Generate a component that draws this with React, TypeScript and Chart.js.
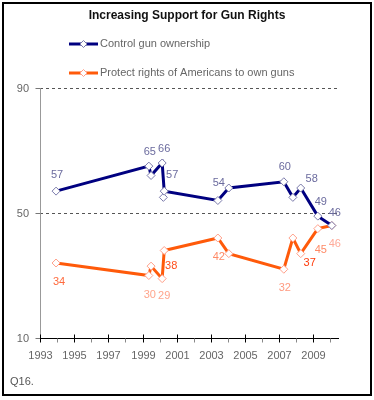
import React, { useEffect, useRef } from "react";
import { Chart, registerables } from "chart.js";

Chart.register(...registerables);

const TITLE = "Increasing Support for Gun Rights";
const SERIES_NAMES = ["Control gun ownership", "Protect rights of Americans to own guns"];
const NOTE = "Q16.";

const surveyDates = [1993.94, 1999.37, 1999.5, 2000.15, 2000.27, 2003.41, 2004.05, 2007.27, 2007.8, 2008.26, 2009.26, 2010.08];
const controlValues = [57, 65, 62, 66, 57, 54, 58, 60, 55, 58, 49, 46];
const protectValues = [34, 30, 33, 29, 38, 42, 37, 32, 42, 37, 45, 46];
const extraControlDates = [2000.22];
const extraControlValues = [55];

const xTickYears = [1993, 1994, 1995, 1996, 1997, 1998, 1999, 2000, 2001, 2002, 2003, 2004, 2005, 2006, 2007, 2008, 2009, 2010];
const xLabelYears = [1993, 1995, 1997, 1999, 2001, 2003, 2005, 2007, 2009];
const yTickValues = [10, 50, 90];
const yGridValues = [50, 90];

// which points carry a value label, with label offsets (dx, dy) and colours
const controlLabels: Record<number, [number, number, string]> = {
  0: [1, -16, "#6b6b9e"],
  1: [1, -14, "#6b6b9e"],
  3: [2, -14, "#6b6b9e"],
  4: [8, -16, "#6b6b9e"],
  5: [1, -18, "#6b6b9e"],
  7: [1, -15, "#6b6b9e"],
  9: [11, -9, "#6b6b9e"],
  10: [3, -14, "#6b6b9e"],
  11: [3, -13, "#6b6b9e"],
};
const protectLabels: Record<number, [number, number, string]> = {
  0: [3, 19, "#ff6a3d"],
  1: [1, 19, "#ffa58c"],
  3: [2, 17, "#ffa58c"],
  4: [7, 15, "#ff4d1a"],
  5: [1, 19, "#ff8a66"],
  7: [1, 19, "#ff9a80"],
  9: [9, 9, "#ff3b0a"],
  10: [3, 21, "#ff8a66"],
  11: [3, 18, "#ffaa99"],
};

const NAVY = "#000080";
const ORANGE = "#ff5a0a";
const NAVY_PT = "#7a7aaa";
const ORANGE_PT = "#ffa08a";

const decorPlugin = {
  id: "decor",
  beforeDatasetsDraw(chart: any) {
    const ctx = chart.ctx;
    const xs = chart.scales.x;
    const ys = chart.scales.y;
    const ca = chart.chartArea;
    ctx.save();
    // border
    ctx.strokeStyle = "#000";
    ctx.lineWidth = 2;
    ctx.strokeRect(3, 3, 368, 392);
    // title
    ctx.fillStyle = "#111";
    ctx.font = "bold 12px 'Liberation Sans', Arial, sans-serif";
    ctx.textAlign = "center";
    ctx.textBaseline = "middle";
    ctx.fillText(TITLE, 187, 16);
    // legend
    const legendY = [44, 73];
    const cols = [[NAVY, NAVY_PT], [ORANGE, ORANGE_PT]];
    ctx.font = "11px 'Liberation Sans', Arial, sans-serif";
    ctx.textAlign = "left";
    SERIES_NAMES.forEach((name, i) => {
      const y = legendY[i];
      ctx.strokeStyle = cols[i][0];
      ctx.lineWidth = 3;
      ctx.beginPath();
      ctx.moveTo(69, y);
      ctx.lineTo(98, y);
      ctx.stroke();
      ctx.fillStyle = "#fff";
      ctx.strokeStyle = cols[i][1];
      ctx.lineWidth = 1;
      ctx.beginPath();
      ctx.moveTo(83.5, y - 3.5);
      ctx.lineTo(87, y);
      ctx.lineTo(83.5, y + 3.5);
      ctx.lineTo(80, y);
      ctx.closePath();
      ctx.fill();
      ctx.stroke();
      ctx.fillStyle = "#666";
      ctx.fillText(name, 100, y);
    });
    // note
    ctx.fillStyle = "#555";
    ctx.fillText(NOTE, 10, 382);
    // grid lines
    ctx.strokeStyle = "#555";
    ctx.lineWidth = 1;
    ctx.setLineDash([3, 3]);
    yGridValues.forEach((v) => {
      const y = Math.round(ys.getPixelForValue(v)) + 0.5;
      ctx.beginPath();
      ctx.moveTo(ca.left, y);
      ctx.lineTo(ca.right - 2, y);
      ctx.stroke();
    });
    ctx.setLineDash([]);
    // y axis
    const ax = Math.round(ca.left) + 0.5;
    ctx.strokeStyle = "#999";
    ctx.beginPath();
    ctx.moveTo(ax, ys.getPixelForValue(90));
    ctx.lineTo(ax, ys.getPixelForValue(10));
    ctx.stroke();
    ctx.fillStyle = "#666";
    ctx.textAlign = "right";
    yTickValues.forEach((v) => {
      const y = Math.round(ys.getPixelForValue(v)) + 0.5;
      ctx.strokeStyle = "#777";
      ctx.beginPath();
      ctx.moveTo(ax - 5, y);
      ctx.lineTo(ax, y);
      ctx.stroke();
      ctx.fillText(String(v), 29, y);
    });
    // x axis
    const by = Math.round(ys.getPixelForValue(10)) + 0.5;
    ctx.strokeStyle = "#000";
    ctx.beginPath();
    ctx.moveTo(ca.left, by);
    ctx.lineTo(ca.right, by);
    ctx.stroke();
    ctx.textAlign = "center";
    xTickYears.forEach((yr) => {
      const x = Math.round(xs.getPixelForValue(yr)) + 0.5;
      const major = xLabelYears.includes(yr);
      ctx.strokeStyle = major ? "#000" : "#888";
      ctx.beginPath();
      ctx.moveTo(x, major ? by - 4 : by);
      ctx.lineTo(x, by + 4);
      ctx.stroke();
      if (major) {
        ctx.fillStyle = "#666";
        ctx.fillText(String(yr), x, by + 17);
      }
    });
    ctx.restore();
  },
  afterDatasetsDraw(chart: any) {
    const ctx = chart.ctx;
    ctx.save();
    ctx.font = "11px 'Liberation Sans', Arial, sans-serif";
    ctx.textAlign = "center";
    ctx.textBaseline = "middle";
    const sets: [number, Record<number, [number, number, string]>, number[]][] = [
      [0, controlLabels, controlValues],
      [1, protectLabels, protectValues],
    ];
    sets.forEach(([di, labels, vals]) => {
      const meta = chart.getDatasetMeta(di);
      Object.keys(labels).forEach((k) => {
        const i = Number(k);
        const el = meta.data[i];
        const [dx, dy, col] = labels[i];
        ctx.fillStyle = col;
        ctx.fillText(String(vals[i]), el.x + dx, el.y + dy);
      });
    });
    ctx.restore();
  },
};

export default function App() {
  const ref = useRef<HTMLCanvasElement | null>(null);
  useEffect(() => {
    if (!ref.current) return;
    const pointCommon = {
      pointStyle: "rectRot",
      pointRadius: 4,
      pointHoverRadius: 4,
      pointBackgroundColor: "#fff",
      pointBorderWidth: 1,
    };
    const chart = new Chart(ref.current, {
      type: "line",
      data: {
        datasets: [
          {
            label: SERIES_NAMES[0],
            data: surveyDates.map((d, i) => ({ x: d, y: controlValues[i] })),
            borderColor: NAVY,
            borderWidth: 3,
            pointBorderColor: NAVY_PT,
            tension: 0,
            ...pointCommon,
          } as any,
          {
            label: SERIES_NAMES[1],
            data: surveyDates.map((d, i) => ({ x: d, y: protectValues[i] })),
            borderColor: ORANGE,
            borderWidth: 3,
            pointBorderColor: ORANGE_PT,
            tension: 0,
            ...pointCommon,
          } as any,
          {
            label: "extra",
            data: extraControlDates.map((d, i) => ({ x: d, y: extraControlValues[i] })),
            showLine: false,
            borderColor: NAVY,
            pointBorderColor: NAVY_PT,
            ...pointCommon,
          } as any,
        ],
      },
      options: {
        animation: false,
        responsive: false,
        devicePixelRatio: 1,
        layout: { padding: { left: 40, right: 35, top: 88, bottom: 62 } },
        scales: {
          x: { type: "linear", min: 1993, max: 2010.5, display: false },
          y: { type: "linear", min: 10, max: 90, display: false },
        },
        plugins: { legend: { display: false }, tooltip: { enabled: false }, title: { display: false } },
      },
      plugins: [decorPlugin],
    } as any);
    return () => chart.destroy();
  }, []);
  return (
    <div style={{ position: "absolute", left: 0, top: 0, width: 374, height: 400, background: "#fff" }}>
      <canvas ref={ref} width={374} height={400} style={{ display: "block" }} />
    </div>
  );
}
